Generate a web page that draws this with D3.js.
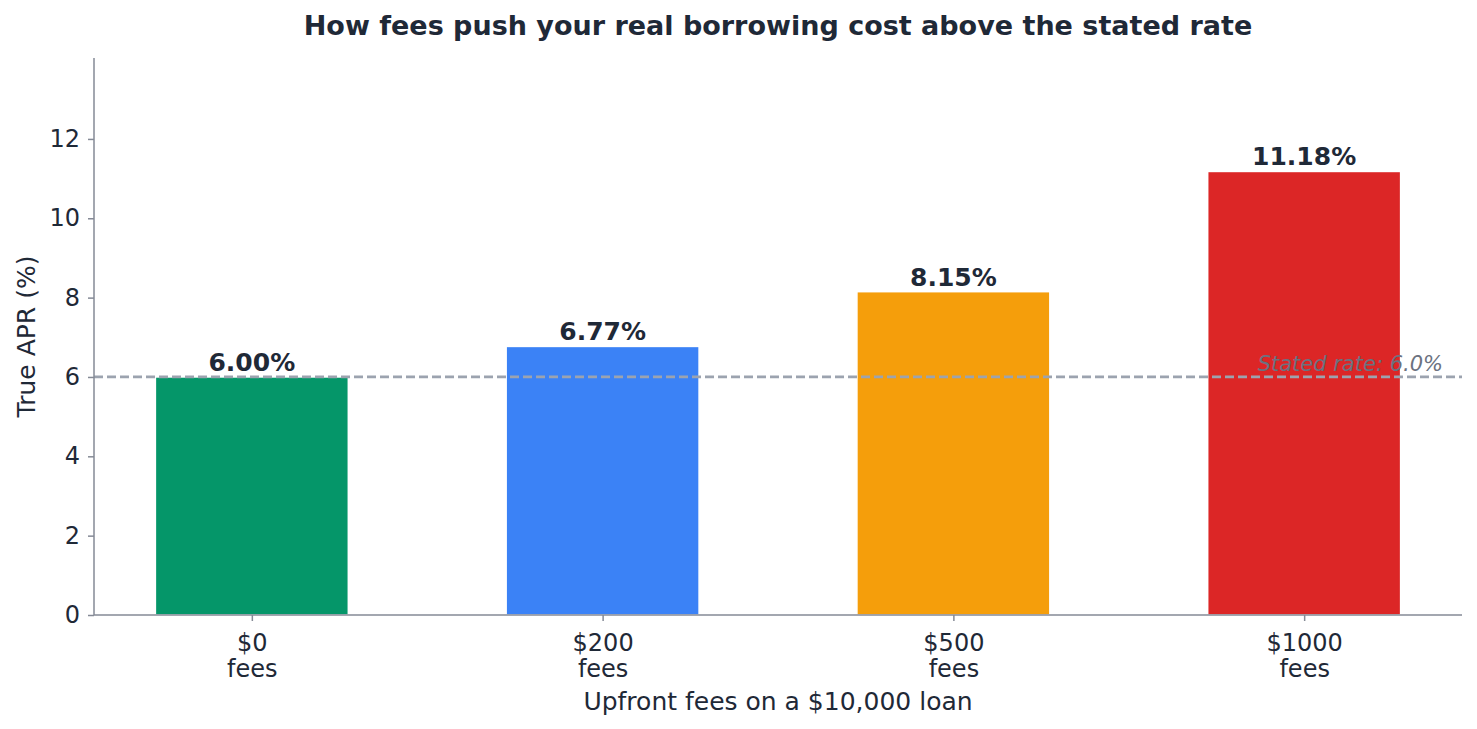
<!DOCTYPE html>
<html>
<head>
<meta charset="utf-8">
<style>
    body { margin: 0; background: #ffffff; }
    svg { display: block; font-family: "DejaVu Sans", sans-serif; }
</style>
</head>
<body>
<div id="chart"></div>
<script src="https://cdn.jsdelivr.net/npm/d3@7"></script>
<script>
    // values
    const categories = ["$0\nfees", "$200\nfees", "$500\nfees", "$1000\nfees"];
    const apr = [6.00, 6.77, 8.15, 11.18];
    const barColors = ["#059669", "#3b82f6", "#f59e0b", "#dc2626"];
    const yTicks = [0, 2, 4, 6, 8, 10, 12];
    const statedRate = 6.0;

    const width = 1477, height = 729;
    const margin = { top: 58, right: 15, bottom: 114, left: 94 };
    const textColor = "#1f2937";
    const spineColor = "#858a96";

    const svg = d3.select("#chart").append("svg")
        .attr("width", width)
        .attr("height", height);

    const x = d3.scalePoint()
        .domain(categories)
        .range([margin.left, width - margin.right])
        .padding(0.45);

    const y = d3.scaleLinear()
        .domain([0, 14.04])
        .range([height - margin.bottom, margin.top]);

    const barW = x.step() * 0.55;

    // bars
    svg.selectAll(".bar")
        .data(apr)
        .enter()
        .append("rect")
        .attr("class", "bar")
        .attr("x", (d, i) => x(categories[i]) - barW / 2)
        .attr("y", d => y(d))
        .attr("width", barW)
        .attr("height", d => y(0) - y(d))
        .attr("fill", (d, i) => barColors[i])
        .attr("stroke", "#ffffff")
        .attr("stroke-width", 1.5);

    // stated rate reference line
    svg.append("line")
        .attr("x1", margin.left)
        .attr("x2", width - margin.right)
        .attr("y1", y(statedRate))
        .attr("y2", y(statedRate))
        .attr("stroke", "#9ca3af")
        .attr("stroke-width", 2.8)
        .attr("stroke-dasharray", "9,4");

    svg.append("text")
        .attr("x", 1443)
        .attr("y", y(statedRate) - 6)
        .attr("text-anchor", "end")
        .style("font-size", "21px")
        .style("font-style", "italic")
        .attr("fill", "#6b7280")
        .text("Stated rate: " + statedRate.toFixed(1) + "%");

    // value labels
    svg.selectAll(".label")
        .data(apr)
        .enter()
        .append("text")
        .attr("class", "label")
        .attr("x", (d, i) => x(categories[i]))
        .attr("y", d => y(d) - 6)
        .attr("text-anchor", "middle")
        .style("font-size", "25px")
        .style("font-weight", "bold")
        .attr("fill", textColor)
        .text(d => d.toFixed(2) + "%");

    // axes
    const yAxis = svg.append("g")
        .attr("transform", `translate(${margin.left},0)`)
        .call(d3.axisLeft(y).tickValues(yTicks).tickSize(6).tickPadding(8));
    yAxis.select(".domain").attr("d", `M0,${y(0)}V${margin.top}`);

    const xAxis = svg.append("g")
        .attr("transform", `translate(0,${y(0)})`)
        .call(d3.axisBottom(x).tickSize(6).tickPadding(8));

    [yAxis, xAxis].forEach(g => {
        g.select(".domain").attr("stroke", spineColor).attr("stroke-width", 1.5);
        g.selectAll(".tick line").attr("stroke", spineColor).attr("stroke-width", 1.5);
        g.selectAll(".tick text")
            .attr("fill", textColor)
            .style("font-size", "24px")
            .style("font-family", "DejaVu Sans, sans-serif");
    });
    xAxis.select(".domain").attr("d", `M${margin.left},0H${width - margin.right}`);

    // two-line category labels
    xAxis.selectAll(".tick text").each(function (d) {
        const t = d3.select(this);
        const lines = d.split("\n");
        t.text(null).attr("dy", null).attr("y", 0);
        lines.forEach((s, i) => {
            t.append("tspan")
                .attr("x", 0)
                .attr("y", 36 + i * 26)
                .text(s);
        });
    });

    // titles
    svg.append("text")
        .attr("x", (margin.left + width - margin.right) / 2)
        .attr("y", 35)
        .attr("text-anchor", "middle")
        .style("font-size", "27px")
        .style("font-weight", "bold")
        .attr("fill", textColor)
        .text("How fees push your real borrowing cost above the stated rate");

    svg.append("text")
        .attr("x", (margin.left + width - margin.right) / 2)
        .attr("y", 710)
        .attr("text-anchor", "middle")
        .style("font-size", "25px")
        .attr("fill", textColor)
        .text("Upfront fees on a $10,000 loan");

    svg.append("text")
        .attr("transform", `translate(35,${(margin.top + y(0)) / 2}) rotate(-90)`)
        .attr("text-anchor", "middle")
        .style("font-size", "25px")
        .attr("fill", textColor)
        .text("True APR (%)");
</script>
</body>
</html>
